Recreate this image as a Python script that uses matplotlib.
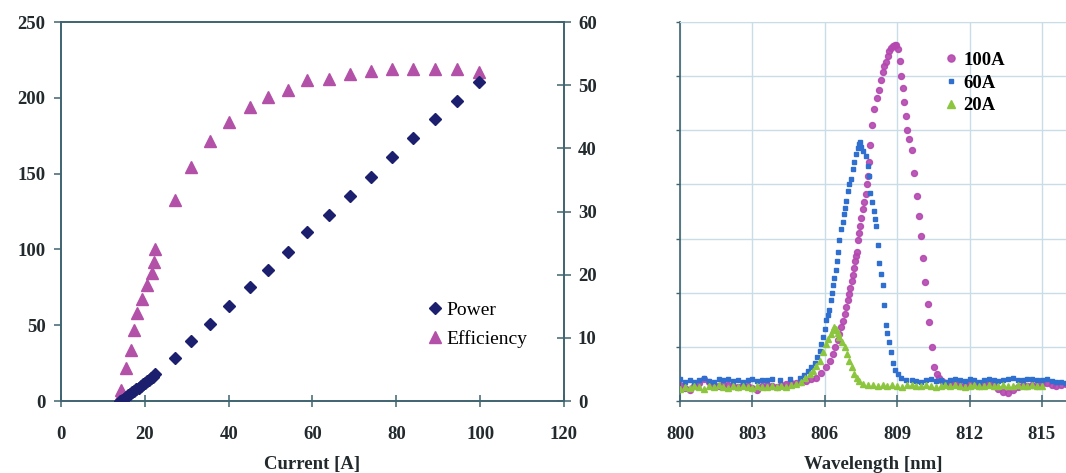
import matplotlib
matplotlib.use("Agg")
import matplotlib.pyplot as plt
from matplotlib.lines import Line2D

plt.rcParams['font.family'] = ['Liberation Serif', 'DejaVu Serif']

# ---- left chart: power / efficiency vs current ----
current_power = [14.0, 14.5, 15.0, 15.5, 16.0, 16.5, 17.0, 17.5, 18.0, 18.5,
                 19.0, 19.5, 20.0, 20.5, 21.0, 21.5, 22.0, 22.5, 27.2, 31.0,
                 35.6, 40.1, 45.0, 49.5, 54.1, 58.7, 63.9, 68.9, 73.9, 78.9,
                 84.0, 89.2, 94.4, 99.7]
power = [0.0, 0.6, 1.6, 2.7, 3.7, 4.8, 5.8, 6.8, 7.9, 8.9,
         10.0, 11.0, 12.0, 13.0, 14.1, 15.1, 16.1, 17.6, 28.6, 39.6,
         51.1, 62.8, 74.9, 86.3, 98.0, 111.2, 122.7, 135.5, 147.6, 160.8,
         173.3, 186.1, 198.2, 210.4]

current_eff = [14.0, 14.3, 15.4, 16.7, 17.4, 18.2, 19.4, 20.6, 21.6, 22.1,
               22.5, 27.2, 31.0, 35.6, 40.1, 45.0, 49.5, 54.1, 58.7, 63.9,
               68.9, 73.9, 78.9, 84.0, 89.2, 94.4, 99.7]
efficiency = [0.8, 1.7, 5.2, 8.1, 11.2, 13.9, 16.2, 18.4, 20.2, 22.0,
              24.0, 31.8, 37.0, 41.2, 44.1, 46.5, 48.1, 49.2, 50.8, 51.0,
              51.7, 52.3, 52.6, 52.6, 52.6, 52.6, 52.1]

# ---- right chart: spectra (arbitrary units) ----
wl_100 = [800.0, 800.2, 800.4, 800.6, 800.8, 801.0, 801.2, 801.4, 801.6, 801.8,
          802.0, 802.2, 802.4, 802.6, 802.8, 803.0, 803.2, 803.4, 803.6, 803.8,
          804.0, 804.2, 804.4, 804.6, 804.8, 805.0, 805.24, 805.45, 805.65, 805.85,
          806.06, 806.2, 806.33, 806.44, 806.54, 806.61, 806.68, 806.75, 806.82, 806.89,
          806.95, 807.0, 807.05, 807.11, 807.16, 807.2, 807.24, 807.29, 807.33, 807.38,
          807.42, 807.47, 807.52, 807.57, 807.63, 807.69, 807.74, 807.78, 807.82, 807.88,
          807.96, 808.06, 808.15, 808.24, 808.33, 808.4, 808.47, 808.54, 808.61, 808.68,
          808.76, 808.83, 808.9, 808.97, 809.05, 809.1, 809.16, 809.23, 809.3, 809.36,
          809.43, 809.51, 809.6, 809.71, 809.82, 809.92, 809.99, 810.08, 810.17, 810.26,
          810.33, 810.44, 810.54, 810.64, 810.74, 810.88, 811.02, 811.2, 811.4, 811.6,
          811.8, 812.0, 812.2, 812.4, 812.6, 812.8, 813.0, 813.2, 813.4, 813.6,
          813.8, 814.0, 814.2, 814.4, 814.6, 814.8, 815.0, 815.2, 815.4, 815.6,
          815.8, 816.0]
int_100 = [0.30, 0.24, 0.21, 0.27, 0.33, 0.40, 0.36, 0.30, 0.27, 0.32,
           0.30, 0.27, 0.25, 0.30, 0.28, 0.24, 0.21, 0.27, 0.30, 0.28,
           0.26, 0.29, 0.31, 0.33, 0.34, 0.35, 0.37, 0.40, 0.43, 0.52,
           0.62, 0.74, 0.87, 1.00, 1.12, 1.24, 1.36, 1.48, 1.61, 1.74,
           1.86, 1.97, 2.08, 2.21, 2.33, 2.46, 2.58, 2.67, 2.76, 2.98,
           3.10, 3.23, 3.38, 3.54, 3.68, 3.82, 4.00, 4.16, 4.41, 4.72,
           5.09, 5.40, 5.59, 5.74, 5.93, 6.08, 6.18, 6.27, 6.37, 6.46,
           6.52, 6.56, 6.58, 6.57, 6.50, 6.28, 6.01, 5.78, 5.53, 5.27,
           5.01, 4.83, 4.64, 4.22, 3.79, 3.41, 3.04, 2.64, 2.20, 1.80,
           1.46, 0.99, 0.62, 0.50, 0.43, 0.37, 0.34, 0.33, 0.31, 0.28,
           0.30, 0.33, 0.29, 0.27, 0.30, 0.31, 0.28, 0.22, 0.16, 0.15,
           0.20, 0.26, 0.29, 0.27, 0.30, 0.28, 0.31, 0.33, 0.30, 0.28,
           0.29, 0.31]

wl_60 = [800.0, 800.2, 800.4, 800.6, 800.8, 801.0, 801.2, 801.4, 801.6, 801.8,
         802.0, 802.2, 802.4, 802.6, 802.8, 803.0, 803.2, 803.4, 803.6, 803.8,
         804.13, 804.55, 804.96, 805.15, 805.3, 805.45, 805.58, 805.69, 805.79, 805.86,
         805.92, 805.99, 806.06, 806.12, 806.17, 806.24, 806.29, 806.33, 806.39, 806.45,
         806.5, 806.54, 806.61, 806.68, 806.74, 806.79, 806.84, 806.89, 806.95, 807.01,
         807.09, 807.16, 807.23, 807.3, 807.36, 807.41, 807.46, 807.51, 807.6, 807.71,
         807.78, 807.82, 807.88, 807.96, 808.03, 808.08, 808.13, 808.19, 808.26, 808.33,
         808.4, 808.47, 808.54, 808.6, 808.65, 808.74, 808.82, 808.92, 809.02, 809.18,
         809.37, 809.6, 809.8, 810.0, 810.2, 810.4, 810.6, 810.8, 811.0, 811.2,
         811.4, 811.6, 811.8, 812.0, 812.2, 812.4, 812.6, 812.8, 813.0, 813.2,
         813.4, 813.6, 813.8, 814.0, 814.2, 814.4, 814.6, 814.8, 815.0, 815.2,
         815.4, 815.6, 815.8, 816.0]
int_60 = [0.40, 0.36, 0.38, 0.35, 0.39, 0.42, 0.37, 0.36, 0.40, 0.38,
          0.41, 0.37, 0.39, 0.36, 0.38, 0.41, 0.37, 0.39, 0.38, 0.40,
          0.39, 0.40, 0.43, 0.48, 0.56, 0.63, 0.71, 0.82, 0.93, 1.05,
          1.18, 1.33, 1.49, 1.58, 1.68, 1.86, 2.00, 2.14, 2.28, 2.42,
          2.59, 2.76, 2.98, 3.17, 3.31, 3.45, 3.57, 3.69, 3.88, 4.00,
          4.10, 4.28, 4.42, 4.56, 4.68, 4.75, 4.78, 4.69, 4.62, 4.53,
          4.34, 4.16, 3.85, 3.68, 3.51, 3.37, 3.23, 2.89, 2.55, 2.35,
          2.14, 1.77, 1.40, 1.25, 1.09, 0.90, 0.71, 0.58, 0.50, 0.43,
          0.39, 0.38, 0.37, 0.36, 0.38, 0.40, 0.37, 0.38, 0.36, 0.39,
          0.41, 0.38, 0.37, 0.40, 0.39, 0.36, 0.38, 0.41, 0.39, 0.37,
          0.38, 0.40, 0.42, 0.39, 0.38, 0.40, 0.41, 0.38, 0.39, 0.40,
          0.37, 0.36, 0.35, 0.34]

wl_20 = [800.0, 800.2, 800.4, 800.6, 800.8, 801.0, 801.2, 801.4, 801.6, 801.8,
         802.0, 802.2, 802.4, 802.6, 802.8, 803.0, 803.2, 803.4, 803.6, 803.8,
         804.0, 804.2, 804.4, 804.6, 804.8, 805.0, 805.2, 805.4, 805.51, 805.65,
         805.79, 805.92, 806.06, 806.15, 806.25, 806.33, 806.4, 806.47, 806.54, 806.61,
         806.7, 806.82, 806.92, 807.02, 807.12, 807.23, 807.33, 807.44, 807.6, 807.8,
         808.0, 808.2, 808.4, 808.6, 808.8, 809.0, 809.2, 809.4, 809.6, 809.8,
         810.0, 810.2, 810.4, 810.6, 810.8, 811.0, 811.2, 811.4, 811.6, 811.8,
         812.0, 812.2, 812.4, 812.6, 812.8, 813.0, 813.2, 813.4, 813.6, 813.8,
         814.0, 814.2, 814.4, 814.6, 814.8, 815.0]
int_20 = [0.22, 0.26, 0.24, 0.28, 0.25, 0.23, 0.27, 0.25, 0.29, 0.26,
          0.24, 0.27, 0.25, 0.28, 0.26, 0.24, 0.27, 0.25, 0.26, 0.28,
          0.25, 0.27, 0.26, 0.29, 0.31, 0.36, 0.42, 0.50, 0.56, 0.65,
          0.74, 0.90, 1.06, 1.15, 1.24, 1.31, 1.36, 1.33, 1.26, 1.18,
          1.09, 0.99, 0.86, 0.74, 0.62, 0.50, 0.42, 0.37, 0.32, 0.30,
          0.29, 0.28, 0.30, 0.27, 0.29, 0.28, 0.26, 0.29, 0.30, 0.27,
          0.28, 0.29, 0.27, 0.26, 0.28, 0.30, 0.27, 0.29, 0.28, 0.26,
          0.28, 0.29, 0.27, 0.28, 0.30, 0.28, 0.27, 0.29, 0.28, 0.27,
          0.29, 0.28, 0.27, 0.29, 0.28, 0.27]

x_ticks_left = [0, 20, 40, 60, 80, 100, 120]
y_ticks_power = [0, 50, 100, 150, 200, 250]
y_ticks_eff = [0, 10, 20, 30, 40, 50, 60]
wl_ticks = [800, 803, 806, 809, 812, 815]

SPINE = '#3f6470'
TXT = '#222a2e'
NAVY = '#1c1f6e'
PINK = '#b350a8'
C100 = '#b447b0'
C60 = '#2f6fd0'
C20 = '#8cc63f'
GRID = '#c9dde6'
FS = 13.5

fig = plt.figure(figsize=(10.66, 4.73), dpi=100)

# left chart
ax1 = fig.add_axes([61 / 1066, 1 - 401 / 473, (564 - 61) / 1066, (401 - 22) / 473])
ax2 = ax1.twinx()
# power diamonds drawn above the efficiency triangles
ax1.set_zorder(ax2.get_zorder() + 1)
ax1.patch.set_visible(False)

ax1.plot(current_power, power, linestyle='none', marker='D', markersize=6.5,
         color=NAVY, zorder=3)
ax2.plot(current_eff, efficiency, linestyle='none', marker='^', markersize=8.5,
         color=PINK, zorder=2)

ax1.set_xlim(0, 120)
ax1.set_ylim(0, 250)
ax2.set_ylim(0, 60)
ax1.set_xticks(x_ticks_left)
ax1.set_yticks(y_ticks_power)
ax2.set_yticks(y_ticks_eff)

for a in (ax1, ax2):
    for s in a.spines.values():
        s.set_color(SPINE)
        s.set_linewidth(1.2)
ax1.tick_params(axis='both', colors=SPINE, labelcolor=TXT, labelsize=FS,
                length=5, width=1.1)
ax1.tick_params(axis='x', direction='inout', length=8, pad=14)
ax1.tick_params(axis='y', direction='out', pad=6)
ax2.tick_params(axis='y', colors=SPINE, labelcolor=TXT, labelsize=FS,
                direction='inout', length=10, width=1.1, pad=5)
for lab in ax1.get_xticklabels() + ax1.get_yticklabels() + ax2.get_yticklabels():
    lab.set_fontweight('bold')

ax1.set_xlabel('Current [A]', fontsize=FS, fontweight='bold', color=TXT, labelpad=9)

handles = [Line2D([], [], linestyle='none', marker='D', markersize=6.5, color=NAVY),
           Line2D([], [], linestyle='none', marker='^', markersize=8.5, color=PINK)]
ax1.legend(handles, ['Power', 'Efficiency'], loc='center left',
           bbox_to_anchor=(0.69, 0.202), frameon=False, fontsize=14,
           handletextpad=0.05, handlelength=1.0, labelspacing=0.55)

# right chart
ax3 = fig.add_axes([680 / 1066, 1 - 401 / 473, (1066 - 680) / 1066, (401 - 22) / 473])
ax3.plot(wl_100, int_100, linestyle='none', marker='o', markersize=4.3,
         color=C100, alpha=0.9, zorder=2, label='100A')
ax3.plot(wl_60, int_60, linestyle='none', marker='s', markersize=3.0,
         color=C60, zorder=3, label='60A')
ax3.plot(wl_20, int_20, linestyle='none', marker='^', markersize=5.0,
         color=C20, zorder=4, label='20A')

ax3.set_xlim(800, 816)
ax3.set_ylim(0, 7)
ax3.set_xticks(wl_ticks)
ax3.set_yticks(range(8))
ax3.set_yticklabels([])
ax3.grid(True, color=GRID, linewidth=1.0, zorder=0)
ax3.set_axisbelow(True)
ax3.spines['right'].set_visible(False)
ax3.spines['top'].set_color(GRID)
for side in ('left', 'bottom'):
    ax3.spines[side].set_color(SPINE)
    ax3.spines[side].set_linewidth(1.2)
ax3.tick_params(axis='x', colors=SPINE, labelcolor=TXT, labelsize=FS,
                direction='inout', length=8, width=1.1, pad=14)
ax3.tick_params(axis='y', colors=SPINE, direction='out', length=3, width=1.0)
for lab in ax3.get_xticklabels():
    lab.set_fontweight('bold')
ax3.set_xlabel('Wavelength [nm]', fontsize=FS, fontweight='bold', color=TXT, labelpad=9)

ax3.legend(loc='center left', bbox_to_anchor=(0.635, 0.839), frameon=False,
           prop={'size': FS, 'weight': 'bold'}, handletextpad=0.15,
           handlelength=1.0, labelspacing=0.3, markerscale=1.2)

fig.savefig('out.png', dpi=100)
